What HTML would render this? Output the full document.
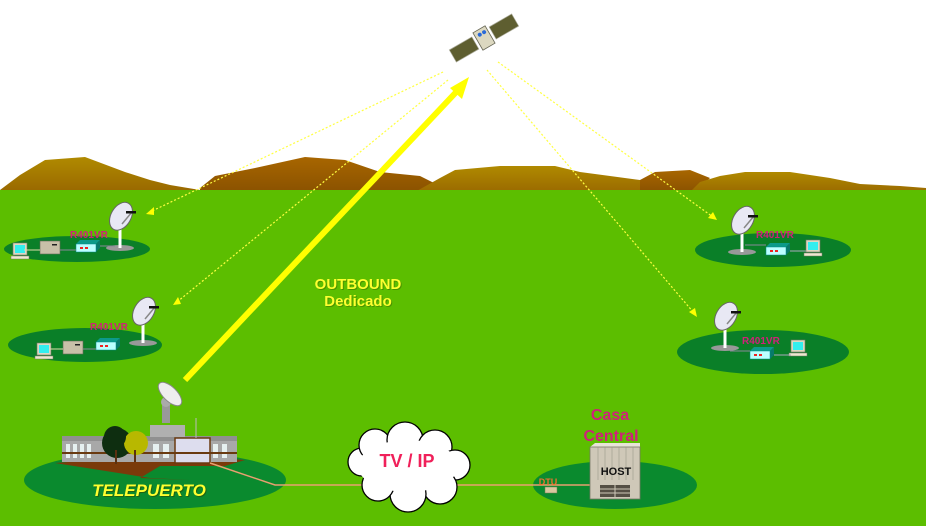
<!DOCTYPE html>
<html><head><meta charset="utf-8"><style>
html,body{margin:0;padding:0;background:#fff;}
svg{display:block;}
text{font-family:"Liberation Sans",Arial,sans-serif;font-weight:bold;}
</style></head><body>
<svg width="929" height="526" viewBox="0 0 929 526" xmlns="http://www.w3.org/2000/svg">
<defs>
<linearGradient id="m1" x1="0" y1="0" x2="0" y2="1"><stop offset="0" stop-color="#b08a00"/><stop offset="1" stop-color="#9a6a00"/></linearGradient>
<linearGradient id="m2" x1="0" y1="0" x2="0" y2="1"><stop offset="0" stop-color="#a86600"/><stop offset="1" stop-color="#8a5200"/></linearGradient>
<g id="dish">
<ellipse cx="0" cy="30" rx="14" ry="3" fill="#999"/>
<rect x="-1.5" y="8" width="3" height="22" fill="#fff"/>
<ellipse cx="0" cy="-2" rx="10" ry="15" transform="rotate(30)" fill="#e8e8f4" stroke="#666" stroke-width="1"/>
<line x1="2" y1="6" x2="12" y2="-6" stroke="#888" stroke-width="1.5"/>
<rect x="6" y="-7" width="10" height="2.5" fill="#111"/>
</g>
<g id="modem">
<polygon points="0,4 4,0 24,0 20,4" fill="#0c9a8a"/>
<polygon points="20,4 24,0 24,8 20,12" fill="#087a6a"/>
<rect x="0" y="4" width="20" height="8" fill="#bff" stroke="#088" stroke-width=".5"/>
<rect x="4" y="7" width="3" height="2" fill="#e22"/><rect x="9" y="7" width="3" height="2" fill="#e22"/>
</g>
<g id="pc">
<rect x="0" y="0" width="14" height="12" fill="#ddd8c0" stroke="#776" stroke-width=".6"/>
<rect x="2" y="2" width="10" height="8" fill="#3ee"/>
<rect x="-2" y="13" width="18" height="3" fill="#eee8d0" stroke="#776" stroke-width=".5"/>
</g>
<g id="box">
<rect x="0" y="0" width="20" height="13" fill="#c8c0a8" stroke="#665" stroke-width=".6"/>
<rect x="12" y="3" width="5" height="1.5" fill="#222"/>
</g>
</defs>
<rect width="929" height="526" fill="#fff"/>
<path d="M0,190 L20,175 L45,160 L85,157 L125,172 L150,180 L170,185 L200,190 Z" fill="url(#m1)"/>
<path d="M200,188 L215,176 L255,168 L305,157 L345,160 L380,172 L420,176 L440,186 L440,192 L200,192 Z" fill="url(#m2)"/>
<path d="M415,192 L440,178 L455,170 L500,166 L555,166 L580,172 L610,176 L640,180 L670,178 L690,178 L700,192 Z" fill="url(#m1)"/>
<path d="M640,180 L655,172 L690,170 L710,178 L700,188 L690,192 L640,192 Z" fill="url(#m2)"/>
<path d="M690,192 L700,182 L720,176 L745,172 L790,172 L830,178 L860,184 L900,186 L926,188 L926,192 Z" fill="url(#m1)"/>
<rect x="0" y="190" width="926" height="336" fill="#5cbe00"/>
<ellipse cx="77" cy="249" rx="73" ry="13" fill="#0a7f28"/>
<ellipse cx="85" cy="345" rx="77" ry="17" fill="#0a7f28"/>
<ellipse cx="773" cy="250" rx="78" ry="17" fill="#0a7f28"/>
<ellipse cx="763" cy="352" rx="86" ry="22" fill="#0a7f28"/>
<ellipse cx="155" cy="480" rx="131" ry="29" fill="#0a8a2e"/>
<ellipse cx="615" cy="485" rx="82" ry="24" fill="#0a8a2e"/>
<g stroke="#ffff40" stroke-width="1.2" stroke-dasharray="2,2" fill="none">
<line x1="443" y1="72" x2="150" y2="212"/>
<line x1="448" y1="80" x2="177" y2="302"/>
<line x1="498" y1="62" x2="713" y2="217"/>
<line x1="487" y1="70" x2="694" y2="313"/>
</g>
<g fill="#ffff00">
<polygon points="146,214 154,207 154,215"/>
<polygon points="173,305 178,297 181,304"/>
<polygon points="717,220 708,218 713,212"/>
<polygon points="697,317 689,312 695,308"/>
</g>
<line x1="185" y1="380" x2="460" y2="88" stroke="#ffff00" stroke-width="6"/>
<polygon points="469,77 450,88 462,99" fill="#ffff00"/>
<g transform="translate(484,38) rotate(-30)">
<rect x="-36" y="-7" width="26" height="14" fill="#5e5e30" stroke="#aa9" stroke-width=".7"/>
<rect x="10" y="-7" width="26" height="14" fill="#5e5e30" stroke="#aa9" stroke-width=".7"/>
<rect x="-7" y="-10" width="14" height="20" fill="#dcd8c0" stroke="#665" stroke-width=".8"/>
<circle cx="-2" cy="-5" r="2" fill="#2a6ad8"/><circle cx="3" cy="-5" r="2" fill="#2a6ad8"/>
</g>
<use href="#dish" x="120" y="218"/>
<use href="#modem" x="76" y="240"/>
<use href="#box" x="40" y="241"/>
<use href="#pc" x="13" y="243"/>
<line x1="24" y1="250" x2="40" y2="250" stroke="#dda" stroke-width="1"/>
<line x1="60" y1="250" x2="76" y2="250" stroke="#889" stroke-width="1"/>
<line x1="100" y1="246" x2="115" y2="246" stroke="#889" stroke-width="1"/>
<text x="70" y="238" font-size="10" fill="#d0207a">R401VR</text>
<use href="#dish" x="143" y="313"/>
<use href="#modem" x="96" y="338"/>
<use href="#box" x="63" y="341"/>
<use href="#pc" x="37" y="343"/>
<line x1="50" y1="349" x2="63" y2="349" stroke="#dda" stroke-width="1"/>
<line x1="83" y1="349" x2="96" y2="349" stroke="#889" stroke-width="1"/>
<text x="90" y="330" font-size="10" fill="#d0207a">R401VR</text>
<use href="#dish" x="742" y="222"/>
<use href="#modem" x="766" y="243"/>
<use href="#pc" x="806" y="240"/>
<line x1="745" y1="245" x2="766" y2="245" stroke="#889" stroke-width="1"/>
<line x1="790" y1="251" x2="806" y2="251" stroke="#aab" stroke-width="1"/>
<text x="756" y="238" font-size="10" fill="#d0207a">R401VR</text>
<use href="#dish" x="725" y="318"/>
<use href="#modem" x="750" y="347"/>
<use href="#pc" x="791" y="340"/>
<line x1="730" y1="351" x2="750" y2="351" stroke="#889" stroke-width="1"/>
<line x1="774" y1="355" x2="791" y2="355" stroke="#aab" stroke-width="1"/>
<text x="742" y="344" font-size="10" fill="#d0207a">R401VR</text>
<text x="359" y="290" font-size="15" fill="#3a6a00" text-anchor="middle" opacity=".5">OUTBOUND</text>
<text x="359" y="307" font-size="15" fill="#3a6a00" text-anchor="middle" opacity=".5">Dedicado</text>
<text x="358" y="289" font-size="15" fill="#ffff30" text-anchor="middle">OUTBOUND</text>
<text x="358" y="306" font-size="15" fill="#ffff30" text-anchor="middle">Dedicado</text>
<path d="M55,463 L120,458 L180,455 L245,460 L225,466 L160,466 L140,478 L190,480 L150,478 Z" fill="#7a3a0a"/>
<rect x="62" y="440" width="175" height="22" fill="#a8a8a8"/>
<rect x="62" y="436" width="175" height="5" fill="#909090"/>
<g fill="#e6f0f0">
<rect x="66" y="444" width="4" height="14"/><rect x="73" y="444" width="4" height="14"/><rect x="80" y="444" width="4" height="14"/><rect x="87" y="444" width="4" height="14"/>
<rect x="153" y="444" width="6" height="14"/><rect x="163" y="444" width="6" height="14"/><rect x="213" y="444" width="5" height="14"/><rect x="222" y="444" width="5" height="14"/>
</g>
<rect x="175" y="438" width="35" height="25" fill="#dde" stroke="#6a3a10" stroke-width="1.5"/>
<rect x="62" y="452" width="175" height="2" fill="#6a3a10"/>
<rect x="150" y="425" width="35" height="12" fill="#b0b0b0"/>
<circle cx="117" cy="443" r="15" fill="#0e2e10"/>
<circle cx="136" cy="443" r="12" fill="#b8b800"/>
<circle cx="115" cy="437" r="11" fill="#0e2e10"/>
<rect x="115" y="450" width="2" height="14" fill="#5a3010"/>
<rect x="134" y="450" width="2" height="12" fill="#5a3010"/>
<g transform="translate(166,410)">
<rect x="-4" y="-5" width="8" height="18" fill="#999"/>
<circle cx="0" cy="-8" r="5" fill="#aaa"/>
<ellipse cx="4" cy="-16" rx="7" ry="15" transform="rotate(-45 4 -16)" fill="#eee" stroke="#888"/>
</g>
<line x1="196" y1="418" x2="196" y2="438" stroke="#bbb" stroke-width="1"/>
<text x="150" y="497" font-size="17" font-style="italic" fill="#2a4a00" text-anchor="middle" opacity=".6">TELEPUERTO</text>
<text x="149" y="496" font-size="17" font-style="italic" fill="#ffff30" text-anchor="middle">TELEPUERTO</text>
<polyline points="210,463 275,485 600,485" fill="none" stroke="#e8a070" stroke-width="1.5"/>
<g fill="#fff" stroke="#000" stroke-width="1.3">
<circle cx="362" cy="462" r="14"/><circle cx="375" cy="445" r="16"/><circle cx="405" cy="440" r="18"/>
<circle cx="435" cy="447" r="17"/><circle cx="455" cy="465" r="15"/><circle cx="440" cy="487" r="17"/>
<circle cx="408" cy="494" r="18"/><circle cx="378" cy="485" r="16"/>
</g>
<ellipse cx="408" cy="466" rx="50" ry="26" fill="#fff"/>
<text x="407" y="467" font-size="18" fill="#f0205a" text-anchor="middle">TV / IP</text>
<text x="610" y="420" font-size="16" fill="#d0207a" text-anchor="middle">Casa</text>
<text x="611" y="441" font-size="16" fill="#d0207a" text-anchor="middle">Central</text>
<polygon points="590,447 595,443 640,443 640,447" fill="#e8e4d8"/>
<rect x="590" y="447" width="50" height="52" fill="#cfc8b8" stroke="#776" stroke-width=".8"/>
<g stroke="#998" stroke-width=".6"><line x1="598" y1="447" x2="598" y2="480"/><line x1="605" y1="447" x2="605" y2="480"/><line x1="612" y1="447" x2="612" y2="480"/><line x1="619" y1="447" x2="619" y2="480"/><line x1="626" y1="447" x2="626" y2="480"/><line x1="633" y1="447" x2="633" y2="480"/></g>
<rect x="600" y="485" width="30" height="12" fill="#554f44"/>
<g stroke="#cfc8b8" stroke-width="1"><line x1="600" y1="489" x2="630" y2="489"/><line x1="600" y1="493" x2="630" y2="493"/><line x1="615" y1="485" x2="615" y2="497"/></g>
<text x="616" y="475" font-size="11" fill="#111" text-anchor="middle">HOST</text>
<rect x="545" y="487" width="12" height="6" fill="#d8c8a0" stroke="#775" stroke-width=".5"/>
<text x="548" y="485" font-size="9" fill="#f07030" text-anchor="middle">DTU</text>
</svg>
</body></html>
